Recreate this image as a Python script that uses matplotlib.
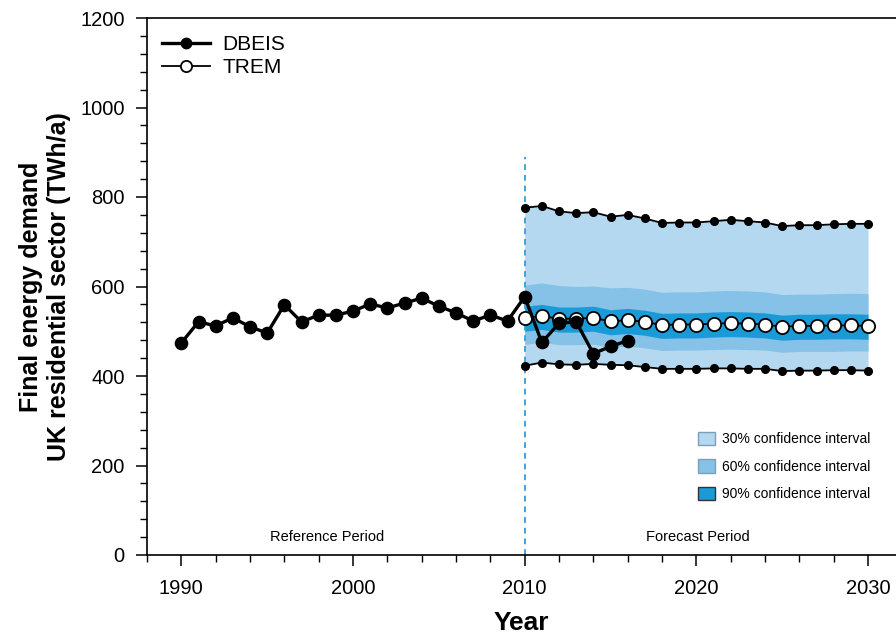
import numpy as np
import matplotlib
matplotlib.use("Agg")
import matplotlib.pyplot as plt
from matplotlib.patches import Patch
from matplotlib.ticker import MultipleLocator

plt.rcParams['font.family'] = ['Liberation Sans', 'DejaVu Sans']

# DBEIS observed demand (TWh/a)
dbeis_years = list(range(1990, 2017))
dbeis = [474, 521, 512, 530, 510, 496, 559, 521, 536, 536,
         545, 561, 552, 563, 574, 556, 541, 523, 536, 523,
         577, 475, 518, 521, 450, 466, 479]

# TREM forecast
trem_years = list(range(2010, 2031))
trem = [530, 534, 528, 528, 530, 522, 525, 521, 514, 515,
        515, 517, 518, 517, 515, 510, 512, 512, 513, 513, 512]

# outer bounds (drawn with small dots)
upper = [776, 780, 768, 764, 766, 756, 760, 752, 742, 743,
         743, 746, 749, 746, 743, 735, 737, 737, 739, 740, 740]
lower = [423, 430, 426, 425, 427, 425, 424, 420, 416, 416,
         416, 417, 417, 416, 416, 411, 412, 412, 413, 413, 412]

# 60% band
mid_hi = [603, 608, 602, 600, 601, 597, 598, 594, 587, 588,
          588, 590, 591, 590, 588, 582, 583, 583, 584, 585, 584]
mid_lo = [471, 475, 470, 470, 471, 464, 467, 463, 457, 458,
          458, 459, 460, 459, 458, 453, 455, 455, 455, 456, 456]

# 90% band
dark_hi = [556, 560, 554, 554, 556, 548, 551, 547, 540, 541,
           541, 543, 544, 543, 541, 536, 538, 538, 539, 539, 538]
dark_lo = [500, 504, 498, 498, 500, 492, 495, 491, 484, 485,
           485, 487, 488, 487, 485, 480, 482, 482, 483, 483, 482]

c_light = '#b3d8ef'
c_mid = '#86c1e7'
c_dark = '#1a9bd7'

fig = plt.figure(figsize=(8.96, 6.43), dpi=100)
ax = fig.add_axes([147 / 896, 88 / 643, 749 / 896, 537 / 643])

# confidence bands
ax.fill_between(trem_years, lower, upper, color=c_light, lw=0, zorder=1)
ax.fill_between(trem_years, mid_lo, mid_hi, color=c_mid, lw=0, zorder=1)
ax.fill_between(trem_years, dark_lo, dark_hi, color=c_dark, lw=0, zorder=1)

# bounds
ax.plot(trem_years, upper, '-o', color='black', lw=1.3, ms=5.5, zorder=3)
ax.plot(trem_years, lower, '-o', color='black', lw=1.3, ms=5.5, zorder=3)

# split line
ax.plot([2010, 2010], [0, 890], ls=(0, (3, 2.5)), color='#3aa6dc', lw=1.4, zorder=2)

ax.plot(trem_years, trem, '-o', color='black', lw=1.3, ms=9.5,
        mfc='white', mec='black', mew=1.3, zorder=4, label='TREM')
ax.plot(dbeis_years, dbeis, '-o', color='black', lw=2.4, ms=8.8,
        zorder=5, label='DBEIS')

ax.text(1998.5, 40, 'Reference Period', ha='center', va='center', fontsize=10.5)
ax.text(2020.1, 40, 'Forecast Period', ha='center', va='center', fontsize=10.5)

ax.set_xlim(1988, 2031.63)
ax.set_ylim(0, 1200)
ax.xaxis.set_major_locator(MultipleLocator(10))
ax.xaxis.set_minor_locator(MultipleLocator(2))
ax.yaxis.set_major_locator(MultipleLocator(200))
ax.yaxis.set_minor_locator(MultipleLocator(40))
ax.tick_params(which='major', direction='out', length=8, width=1.1, labelsize=14.5)
ax.tick_params(which='minor', direction='out', length=5, width=1.0)
ax.tick_params(axis='x', pad=9)
ax.tick_params(axis='y', pad=8)
ax.spines['right'].set_visible(False)
for s in ['left', 'bottom', 'top']:
    ax.spines[s].set_linewidth(1.2)

ax.set_xlabel('Year', fontsize=19, fontweight='bold', labelpad=10)
ax.set_ylabel('Final energy demand\nUK residential sector (TWh/a)',
              fontsize=18, fontweight='bold', labelpad=7)

h, l = ax.get_legend_handles_labels()
leg1 = ax.legend(h[::-1], l[::-1], loc='upper left', bbox_to_anchor=(0.0, 0.995),
                 fontsize=15, frameon=False, handlelength=2.3, borderaxespad=0.3,
                 labelspacing=0.2, handletextpad=0.6, markerscale=0.85)
ax.add_artist(leg1)

patches = [Patch(facecolor=c_light, edgecolor='#7f9fb5', label='30% confidence interval'),
           Patch(facecolor=c_mid, edgecolor='#7f9fb5', label='60% confidence interval'),
           Patch(facecolor=c_dark, edgecolor='#333333', label='90% confidence interval')]
ax.legend(handles=patches, loc='lower right', bbox_to_anchor=(0.982, 0.077),
          fontsize=10, frameon=False, handlelength=1.25, handleheight=1.1,
          labelspacing=0.95, handletextpad=0.45)

fig.savefig('out.png', dpi=100)
